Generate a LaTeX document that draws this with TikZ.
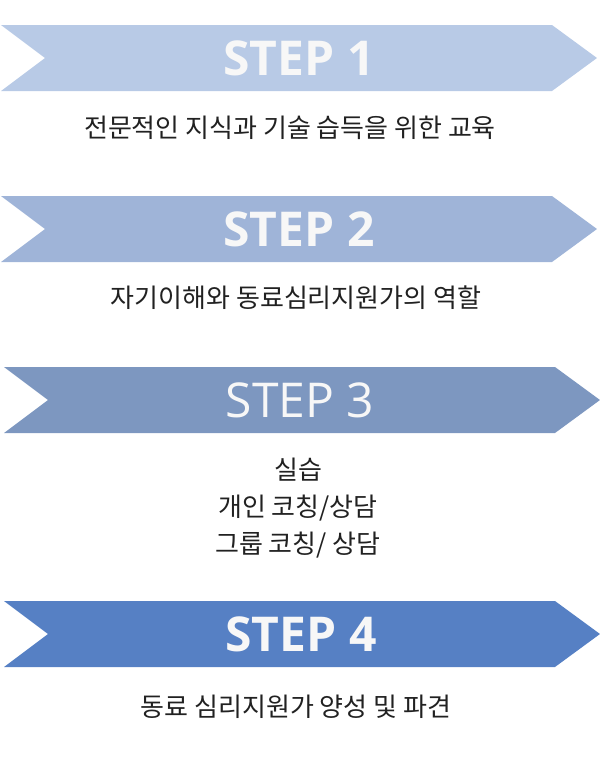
\documentclass[tikz,border=0pt]{standalone}
\usepackage{fontspec}
\setmainfont{Open Sans}
\newfontfamily\kofont{Noto Sans CJK KR}
\usetikzlibrary{positioning}

\definecolor{stepa}{HTML}{B8CAE6}
\definecolor{stepb}{HTML}{9FB4D8}
\definecolor{stepc}{HTML}{7D97C0}
\definecolor{stepd}{HTML}{5680C4}

\begin{document}
\begin{tikzpicture}[line cap=round,line join=round,x=1.0pt,y=-1.0pt,
  steplabel/.style={text=white!97!black,font=\fontsize{48}{48}\selectfont\bfseries},
  desc/.style={text=black!87,font=\kofont\fontsize{26}{37}\selectfont,align=center}]
\useasboundingbox (0,0) rectangle (600,780);

% step 1
\fill[stepa] (1,25) -- (552,25) -- (597,58) -- (552,91) -- (1,91) -- (45,58) -- cycle;
\node[steplabel] (s1) at (299,58) {STEP 1};
\node[desc] (d1) at (290,128) {전문적인 지식과 기술 습득을 위한 교육};

% step 2
\fill[stepb] (1,196) -- (552,196) -- (597,229) -- (552,262) -- (1,262) -- (45,229) -- cycle;
\node[steplabel] (s2) at (299,229) {STEP 2};
\node[desc] (d2) at (296,298) {자기이해와 동료심리지원가의 역할};

% step 3
\fill[stepc] (4,367) -- (555,367) -- (600,400) -- (555,433) -- (4,433) -- (48,400) -- cycle;
\node[steplabel,font=\fontsize{48}{48}\selectfont\mdseries] (s3) at (300,400) {STEP 3};
\node[desc] (d3) at (298,508) {실습\\개인 코칭/상담\\그룹 코칭/ 상담};

% step 4
\fill[stepd] (4,601) -- (555,601) -- (600,634) -- (555,667) -- (4,667) -- (48,634) -- cycle;
\node[steplabel] (s4) at (301,634) {STEP 4};
\node[desc] (d4) at (296,707) {동료 심리지원가 양성 및 파견};
\end{tikzpicture}
\end{document}
